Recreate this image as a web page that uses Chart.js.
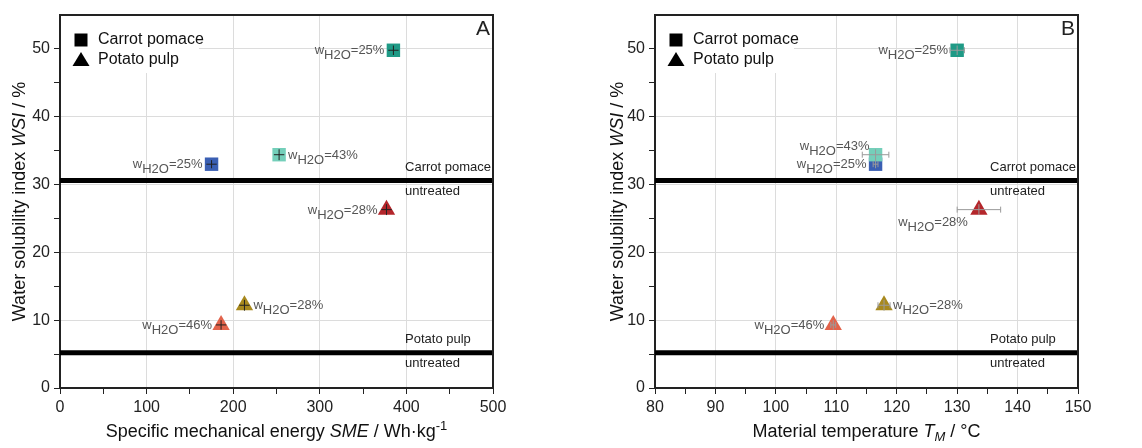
<!DOCTYPE html>
<html>
<head>
<meta charset="utf-8">
<script src="https://cdn.jsdelivr.net/npm/chart.js@4.4.1/dist/chart.umd.min.js"></script>
<style>
  body { margin: 0; background: #fff; width: 1142px; height: 448px; overflow: hidden; position: relative; }
  canvas { position: absolute; top: 0; }
  #chartA { left: 0; }
  #chartB { left: 570px; }
</style>
</head>
<body>
<canvas id="chartA" width="570" height="448"></canvas>
<canvas id="chartB" width="572" height="448"></canvas>
<script>
// data
const materials = ['Carrot pomace', 'Carrot pomace', 'Carrot pomace', 'Potato pulp', 'Potato pulp', 'Potato pulp'];
const waterContent = [25, 25, 43, 28, 28, 46];
const smeValues = [385, 175, 253, 377, 213, 186];
const smeErrors = [6, 6, 6, 6, 6, 6];
const tempValues = [130, 116.5, 116.5, 133.6, 117.9, 109.5];
const tempErrors = [1.2, 0.4, 2.2, 3.6, 1.0, 0.4];
const wsiValues = [49.8, 33.0, 34.4, 26.3, 12.2, 9.3];
const wsiErrors = [0.7, 0.6, 0.8, 0.8, 0.8, 0.7];
const untreatedNames = ['Carrot pomace', 'Potato pulp'];
const untreatedWsi = [30.6, 5.2];
const legendNames = ['Carrot pomace', 'Potato pulp'];

// styles
const pointColors = ['#1f9a86', '#3a5fb3', '#74cfba', '#b4262b', '#a8891d', '#e2634b'];
const markerShapes = { 'Carrot pomace': 'rect', 'Potato pulp': 'triangle' };
const markerRadius = { 'Carrot pomace': 9.5, 'Potato pulp': 10 };
const FONT = "'Liberation Sans', Arial, sans-serif";

const overlayPlugin = {
  id: 'overlay',
  beforeDatasetsDraw(chart, args, opts) {
    const ctx = chart.ctx, a = chart.chartArea;
    ctx.save();
    // legend box
    ctx.fillStyle = '#fff';
    ctx.fillRect(a.left + 1, a.top + 1, 138, 57);
    legendNames.forEach((name, i) => {
      const cy = a.top + 25 + i * 20;
      const cx = a.left + 21;
      ctx.fillStyle = '#000';
      ctx.beginPath();
      if (markerShapes[name] === 'rect') {
        ctx.rect(cx - 6.5, cy - 6.5, 13, 13);
      } else {
        ctx.moveTo(cx, cy - 8);
        ctx.lineTo(cx + 8.5, cy + 6);
        ctx.lineTo(cx - 8.5, cy + 6);
        ctx.closePath();
      }
      ctx.fill();
      ctx.font = '16px ' + FONT;
      ctx.fillStyle = '#111';
      ctx.textBaseline = 'middle';
      ctx.textAlign = 'left';
      ctx.fillText(name, a.left + 38, cy);
    });
    ctx.restore();
  },
  afterDatasetsDraw(chart, args, opts) {
    const ctx = chart.ctx;
    const xs = chart.scales.x, ys = chart.scales.y;
    ctx.save();
    chart.data.datasets.forEach(ds => {
      if (!ds.sampleIdx) return;
      ds.sampleIdx.forEach(s => {
        const x = opts.xValues[s], y = wsiValues[s];
        const px = xs.getPixelForValue(x), py = ys.getPixelForValue(y);
        const x1 = xs.getPixelForValue(x - opts.xErrors[s]);
        const x2 = xs.getPixelForValue(x + opts.xErrors[s]);
        const y1 = ys.getPixelForValue(y - wsiErrors[s]);
        const y2 = ys.getPixelForValue(y + wsiErrors[s]);
        // error bars
        ctx.strokeStyle = opts.errColor;
        ctx.lineWidth = 1;
        ctx.beginPath();
        ctx.moveTo(x1, py); ctx.lineTo(x2, py);
        ctx.moveTo(px, y1); ctx.lineTo(px, y2);
        if (opts.caps) {
          ctx.moveTo(x1, py - 3); ctx.lineTo(x1, py + 3);
          ctx.moveTo(x2, py - 3); ctx.lineTo(x2, py + 3);
        }
        ctx.stroke();
        // w_H2O label
        drawWLabel(ctx, waterContent[s], px, py, opts.labelSide[s]);
      });
    });
    ctx.restore();
  },
  afterDraw(chart, args, opts) {
    const ctx = chart.ctx, a = chart.chartArea;
    const ys = chart.scales.y;
    ctx.save();
    // frame top/right
    ctx.strokeStyle = '#222';
    ctx.lineWidth = 2;
    ctx.beginPath();
    ctx.moveTo(a.left, a.top); ctx.lineTo(a.right, a.top); ctx.lineTo(a.right, a.bottom);
    ctx.stroke();
    // untreated labels
    ctx.font = '13px ' + FONT;
    ctx.fillStyle = '#222';
    ctx.textBaseline = 'middle';
    ctx.textAlign = 'left';
    const startX = a.right - 2 - ctx.measureText(untreatedNames[0]).width;
    untreatedNames.forEach((name, i) => {
      const py = ys.getPixelForValue(untreatedWsi[i]);
      ctx.fillText(name, startX, py - 13);
      ctx.fillText('untreated', startX, py + 11);
    });
    // panel letter
    ctx.font = '21px ' + FONT;
    ctx.textAlign = 'right';
    ctx.textBaseline = 'top';
    ctx.fillText(opts.letter, a.right - 3, a.top + 4);
    // axis titles
    drawTitleY(ctx, opts.yTitleX, (a.top + a.bottom) / 2);
    drawRich(ctx, opts.xTitle, (a.left + a.right) / 2, 431, 18);
    ctx.restore();
  }
};

function drawWLabel(ctx, value, px, py, side) {
  const parts = [['w', 0], ['H2O', 1], ['=' + value + '%', 0]];
  ctx.font = '13px ' + FONT;
  const widths = parts.map(p => ctx.measureText(p[0]).width);
  const total = widths.reduce((s, w) => s + w, 0);
  let x, y = py;
  if (side === 'right') x = px + 9;
  else if (side === 'left') x = px - 9 - total;
  else if (side === 'aboveLeft') { x = px - 6 - total; y = py - 9; }
  else if (side === 'belowLeft') { x = px - 11 - total; y = py + 12; }
  ctx.fillStyle = '#555';
  ctx.textAlign = 'left';
  ctx.textBaseline = 'alphabetic';
  parts.forEach((p, i) => {
    ctx.fillText(p[0], x, y + (p[1] ? 9 : 4));
    x += widths[i];
  });
}

function drawTitleY(ctx, x, y) {
  ctx.save();
  ctx.translate(x, y);
  ctx.rotate(-Math.PI / 2);
  drawRich(ctx, [['Water solubility index ', ''], ['WSI', 'italic'], [' / %', '']], 0, 0, 18);
  ctx.restore();
}

// pieces: [text, style] where style may contain italic, sub, sup
function drawRich(ctx, pieces, cx, cy, size) {
  const fontFor = st => (st.includes('italic') ? 'italic ' : '') + ((st.includes('sub') || st.includes('sup')) ? Math.round(size * 0.7) : size) + 'px ' + FONT;
  const widths = pieces.map(p => { ctx.font = fontFor(p[1]); return ctx.measureText(p[0]).width; });
  let x = cx - widths.reduce((s, w) => s + w, 0) / 2;
  ctx.fillStyle = '#111';
  ctx.textAlign = 'left';
  ctx.textBaseline = 'alphabetic';
  pieces.forEach((p, i) => {
    ctx.font = fontFor(p[1]);
    let dy = size * 0.36;
    if (p[1].includes('sub')) dy += 4;
    if (p[1].includes('sup')) dy -= 7;
    ctx.fillText(p[0], x, cy + dy);
    x += widths[i];
  });
}

function buildChart(canvasId, cfg) {
  const datasets = [];
  legendNames.forEach(mat => {
    const idx = materials.map((m, i) => i).filter(i => materials[i] === mat);
    datasets.push({
      label: mat,
      sampleIdx: idx,
      data: idx.map(i => ({ x: cfg.xValues[i], y: wsiValues[i] })),
      pointStyle: markerShapes[mat],
      pointRadius: markerRadius[mat],
      backgroundColor: idx.map(i => pointColors[i]),
      borderColor: idx.map(i => pointColors[i]),
      borderWidth: 0,
      order: 1
    });
  });
  untreatedWsi.forEach((v, i) => {
    datasets.push({
      type: 'line',
      label: untreatedNames[i] + ' untreated',
      data: [{ x: cfg.xMin, y: v }, { x: cfg.xMax, y: v }],
      borderColor: '#000',
      borderWidth: 5,
      pointRadius: 0,
      order: 2
    });
  });

  return new Chart(document.getElementById(canvasId), {
    type: 'scatter',
    data: { datasets },
    options: {
      responsive: false,
      animation: false,
      layout: { padding: { top: 15, right: cfg.padRight, left: cfg.padLeft, bottom: 0 } },
      plugins: {
        legend: { display: false },
        tooltip: { enabled: false },
        overlay: cfg
      },
      scales: {
        x: {
          type: 'linear',
          min: cfg.xMin, max: cfg.xMax,
          afterFit(scale) { scale.height = 60; },
          border: { color: '#222', width: 2 },
          grid: {
            color: c => (c.tick && Math.abs(c.tick.value % cfg.xLabelEvery) < 1e-6) ? '#dcdcdc' : 'rgba(0,0,0,0)',
            tickColor: '#222',
            tickLength: 6
          },
          ticks: {
            stepSize: cfg.xStep,
            autoSkip: false,
            maxRotation: 0,
            padding: 4,
            color: '#222',
            font: { family: FONT, size: 16 },
            callback: v => (Math.abs(v % cfg.xLabelEvery) < 1e-6 ? v : '')
          }
        },
        y: {
          min: 0, max: 55,
          afterFit(scale) { scale.width = 60; },
          border: { color: '#222', width: 2 },
          grid: {
            color: c => (c.tick && c.tick.value % 10 === 0) ? '#dcdcdc' : 'rgba(0,0,0,0)',
            tickColor: c => (c.tick && c.tick.value === 55) ? 'rgba(0,0,0,0)' : '#222',
            tickLength: 6
          },
          ticks: {
            stepSize: 5,
            autoSkip: false,
            padding: 4,
            color: '#222',
            font: { family: FONT, size: 16 },
            callback: v => (v % 10 === 0 ? v : '')
          }
        }
      }
    },
    plugins: [overlayPlugin]
  });
}

buildChart('chartA', {
  letter: 'A',
  xValues: smeValues, xErrors: smeErrors,
  xMin: 0, xMax: 500, xStep: 50, xLabelEvery: 100,
  padLeft: 0, padRight: 77, yTitleX: 19,
  errColor: '#222', caps: false,
  labelSide: ['left', 'left', 'right', 'left', 'right', 'left'],
  xTitle: [['Specific mechanical energy ', ''], ['SME', 'italic'], [' / Wh\u00b7kg', ''], ['-1', 'sup']]
});

buildChart('chartB', {
  letter: 'B',
  xValues: tempValues, xErrors: tempErrors,
  xMin: 80, xMax: 150, xStep: 5, xLabelEvery: 10,
  padLeft: 25, padRight: 64, yTitleX: 47,
  errColor: '#9a9a9a', caps: true,
  labelSide: ['left', 'left', 'aboveLeft', 'belowLeft', 'right', 'left'],
  xTitle: [['Material temperature ', ''], ['T', 'italic'], ['M', 'italic sub'], [' / \u00b0C', '']]
});
</script>
</body>
</html>
